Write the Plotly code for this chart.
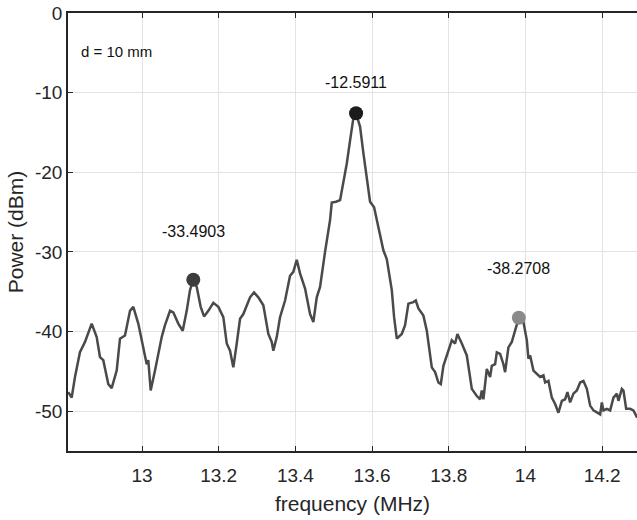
import plotly.graph_objects as go

freq_mhz = [12.8077, 12.8166, 12.8252, 12.8382, 12.8513, 12.8688, 12.8818, 12.8904, 12.8990, 12.9121,
            12.9209, 12.9340, 12.9426, 12.9556, 12.9687, 12.9773, 12.9903, 13.0034, 13.0123, 13.0164,
            13.0227, 13.0339, 13.0425, 13.0514, 13.0600, 13.0731, 13.0817, 13.0947, 13.1062, 13.1166,
            13.1252, 13.1338, 13.1427, 13.1531, 13.1618, 13.1730, 13.1860, 13.1991, 13.2121, 13.2210,
            13.2296, 13.2382, 13.2471, 13.2557, 13.2643, 13.2818, 13.2922, 13.3034, 13.3165, 13.3295,
            13.3384, 13.3426, 13.3514, 13.3600, 13.3731, 13.3861, 13.3947, 13.4036, 13.4122, 13.4253,
            13.4383, 13.4469, 13.4558, 13.4644, 13.4774, 13.4860, 13.4905, 13.4949, 13.5061, 13.5166,
            13.5210, 13.5341, 13.5427, 13.5513, 13.5583, 13.5688, 13.5774, 13.5862, 13.5948, 13.6053,
            13.6165, 13.6295, 13.6384, 13.6515, 13.6575, 13.6645, 13.6775, 13.6861, 13.6948, 13.7078,
            13.7141, 13.7209, 13.7339, 13.7428, 13.7558, 13.7644, 13.7730, 13.7793, 13.7861, 13.7950,
            13.8080, 13.8166, 13.8226, 13.8341, 13.8471, 13.8602, 13.8732, 13.8818, 13.8862, 13.8904,
            13.8993, 13.9079, 13.9123, 13.9209, 13.9254, 13.9340, 13.9426, 13.9470, 13.9556, 13.9645,
            13.9731, 13.9828, 13.9948, 14.0037, 14.0078, 14.0123, 14.0209, 14.0298, 14.0384, 14.0470,
            14.0514, 14.0600, 14.0689, 14.0775, 14.0861, 14.0950, 14.1036, 14.1096, 14.1166, 14.1252,
            14.1341, 14.1427, 14.1513, 14.1602, 14.1644, 14.1688, 14.1774, 14.1863, 14.1949, 14.1993,
            14.2035, 14.2123, 14.2210, 14.2296, 14.2385, 14.2426, 14.2515, 14.2557, 14.2627, 14.2731,
            14.2817, 14.2914]

power_dbm = [-47.6, -48.3, -45.7, -42.6, -41.3, -39.0, -40.7, -43.2, -43.6, -46.6,
             -47.1, -44.9, -40.9, -40.5, -37.4, -36.9, -39.0, -42.0, -44.1, -43.6,
             -47.4, -44.9, -42.8, -40.7, -39.2, -37.4, -37.6, -39.0, -39.9, -37.4,
             -34.8, -33.4903, -34.4, -36.9, -38.1, -37.4, -36.4, -36.9, -38.2, -41.5,
             -42.4, -44.5, -41.5, -38.4, -37.8, -35.7, -35.1, -35.7, -36.7, -40.3,
             -41.3, -42.4, -40.7, -38.2, -36.1, -33.0, -32.5, -31.0, -32.7, -34.6,
             -37.8, -38.8, -35.7, -34.4, -30.0, -27.7, -26.0, -23.8, -23.7, -23.5,
             -22.3, -18.9, -16.0, -13.2, -12.5911, -14.3, -17.6, -21.0, -23.7, -24.4,
             -26.9, -29.8, -30.9, -34.8, -38.2, -40.9, -40.3, -39.2, -36.5, -36.3,
             -36.1, -37.1, -38.0, -39.9, -44.5, -45.1, -46.4, -46.6, -44.3, -43.0,
             -41.1, -41.5, -40.3, -41.5, -43.0, -47.2, -48.1, -48.5, -47.4, -48.5,
             -44.7, -45.7, -44.3, -44.1, -42.6, -42.8, -44.1, -45.1, -42.0, -41.3,
             -39.7, -38.2708, -38.8, -41.1, -43.4, -43.0, -44.9, -45.3, -45.7, -45.5,
             -46.4, -46.2, -48.3, -49.1, -50.2, -48.7, -48.5, -47.6, -48.9, -47.8,
             -47.4, -46.4, -46.2, -47.2, -48.3, -49.3, -49.9, -50.2, -50.4, -48.9,
             -49.9, -49.7, -49.9, -48.3, -47.8, -48.7, -47.2, -47.4, -49.7, -49.7,
             -49.9, -50.8]

peak_freq = [13.1338, 13.5583, 13.9828]
peak_power = [-33.4903, -12.5911, -38.2708]
peak_colors = ["#3c3c3c", "#1c1c1c", "#8a8a8a"]
label_shift = [48, 31, 49]

x_ticks = [13, 13.2, 13.4, 13.6, 13.8, 14, 14.2]
x_tick_text = ["13", "13.2", "13.4", "13.6", "13.8", "14", "14.2"]
y_ticks = [0, -10, -20, -30, -40, -50]
y_tick_text = ["0", "-10", "-20", "-30", "-40", "-50"]

FONT = "Liberation Sans, Arial, Helvetica, sans-serif"
TXT = "#262626"

fig = go.Figure()
fig.add_trace(go.Scatter(x=freq_mhz, y=power_dbm, mode="lines",
                         line=dict(color="#4a4a4a", width=2.5), hoverinfo="skip",
                         showlegend=False))
fig.add_trace(go.Scatter(x=peak_freq, y=peak_power, mode="markers",
                         marker=dict(color=peak_colors, size=14, line=dict(width=0)),
                         showlegend=False))

for f, p, s in zip(peak_freq, peak_power, label_shift):
    fig.add_annotation(x=f, y=p, text=f"{p:.4f}", showarrow=False, yshift=s,
                       font=dict(family=FONT, size=16, color="#111111"))

fig.add_annotation(x=0.02, y=0.935, xref="paper", yref="paper", xanchor="left",
                   text="d = 10 mm", showarrow=False,
                   font=dict(family=FONT, size=15, color="#111111"))

fig.update_layout(
    width=637, height=520,
    margin=dict(l=68, r=0, t=13, b=69),
    paper_bgcolor="white", plot_bgcolor="white",
    font=dict(family=FONT, color=TXT),
    xaxis=dict(range=[12.807, 14.291], tickvals=x_ticks, ticktext=x_tick_text,
               automargin=False,
               showgrid=True, gridcolor="#e3e3e3", gridwidth=1,
               showline=True, linecolor="#262626", linewidth=1.5, mirror="ticks",
               ticks="inside", ticklen=5, tickcolor="#262626",
               tickfont=dict(size=19, color=TXT), zeroline=False, ticklabelstandoff=6,
               title=dict(text="frequency (MHz)", font=dict(size=21, color=TXT), standoff=12)),
    yaxis=dict(range=[-55, 0], tickvals=y_ticks, ticktext=y_tick_text,
               automargin=False,
               showgrid=True, gridcolor="#e3e3e3", gridwidth=1,
               showline=True, linecolor="#262626", linewidth=1.5,
               ticks="inside", ticklen=5, tickcolor="#262626",
               tickfont=dict(size=19, color=TXT), zeroline=False,
               title=dict(text="Power (dBm)", font=dict(size=21, color=TXT), standoff=6)),
)

fig.write_html("out.html", config={"displayModeBar": False},
               post_script="document.body.style.margin='0';")
